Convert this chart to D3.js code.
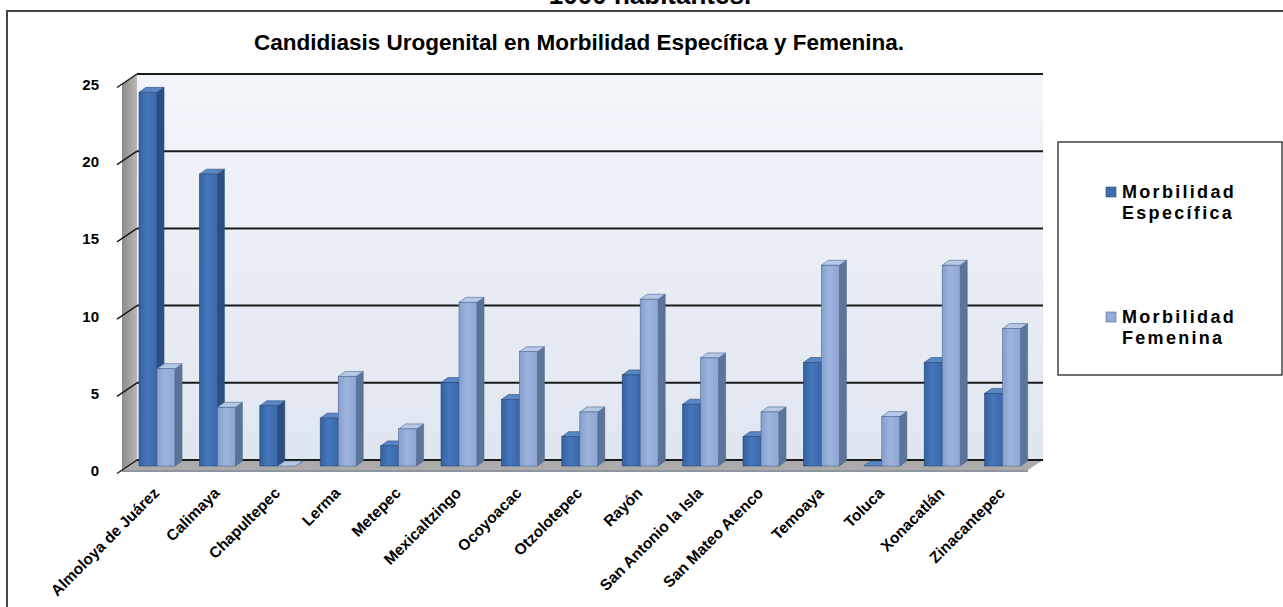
<!DOCTYPE html>
<html>
<head>
<meta charset="utf-8">
<script src="https://cdn.jsdelivr.net/npm/d3@7"></script>
<style>
  body { margin: 0; background: #fff; }
  svg { display: block; font-family: Arial, "Liberation Sans", sans-serif; }
</style>
</head>
<body>
<svg id="chart" width="1283" height="607"></svg>
<script>
var categories = ['Almoloya de Juárez', 'Calimaya', 'Chapultepec', 'Lerma', 'Metepec',
  'Mexicaltzingo', 'Ocoyoacac', 'Otzolotepec', 'Rayón', 'San Antonio la Isla',
  'San Mateo Atenco', 'Temoaya', 'Toluca', 'Xonacatlán', 'Zinacantepec'];
var especifica = [24.2, 18.9, 3.9, 3.1, 1.3, 5.4, 4.3, 1.9, 5.9, 4.0, 1.9, 6.7, 0, 6.7, 4.7];
var femenina = [6.3, 3.8, 0, 5.8, 2.4, 10.6, 7.4, 3.5, 10.8, 7.0, 3.5, 13.0, 3.2, 13.0, 8.9];
var seriesNames = [['Morbilidad', 'Específica'], ['Morbilidad', 'Femenina']];
var yTicks = [0, 5, 10, 15, 20, 25];

var svg = d3.select('#chart');
var defs = svg.append('defs');

// depth of the 3d box (walls) and of each bar
var dx = 15, dy = 10;
var bdx = 7, bdy = 5;

var x = d3.scaleBand()
  .domain(categories)
  .range([122, 1028]);
var yBack = d3.scaleLinear().domain([0, 25]).range([460, 74]);
var yFront = d3.scaleLinear().domain([0, 25]).range([470, 84]);
var yBar = d3.scaleLinear().domain([0, 25]).range([466, 80]);

var styles = [
  {front: 'url(#gEsp)', side: '#2C4E80', top: '#5A86C4', stroke: '#2A4A78', key: '#3E6DB0'},
  {front: 'url(#gFem)', side: '#5D7499', top: '#B7C8E6', stroke: '#4E6890', key: '#94ADD8'}
];

function grad(id, stops, vertical) {
  var g = defs.append('linearGradient').attr('id', id)
    .attr('x1', 0).attr('y1', 0).attr('x2', vertical ? 0 : 1).attr('y2', vertical ? 1 : 0);
  stops.forEach(function (s) {
    g.append('stop').attr('offset', s[0]).attr('stop-color', s[1]);
  });
}
grad('gEsp', [[0, '#34609E'], [0.45, '#4677BC'], [1, '#3A67A8']]);
grad('gFem', [[0, '#849FCE'], [0.45, '#9DB4DD'], [1, '#8CA6D4']]);
grad('gWall', [[0, '#F2F5FA'], [1, '#E0E6F0']], true);
grad('gSide', [[0, '#8C8C8C'], [1, '#B8B8B8']]);

// header text cut at the top and frame
svg.append('text')
  .attr('x', 650).attr('y', 4)
  .attr('text-anchor', 'middle')
  .style('font-size', '26px').style('font-weight', 'bold')
  .text('1000 habitantes.');

svg.append('rect')
  .attr('x', 7).attr('y', 11)
  .attr('width', 1300).attr('height', 620)
  .attr('fill', 'none').attr('stroke', '#444').attr('stroke-width', 2);

svg.append('text')
  .attr('x', 579).attr('y', 50)
  .attr('text-anchor', 'middle')
  .style('font-size', '22.5px').style('font-weight', 'bold')
  .text('Candidiasis Urogenital en Morbilidad Específica y Femenina.');

var x0 = x.range()[0], x1 = x.range()[1];

// back wall
svg.append('rect')
  .attr('x', x0 + dx).attr('y', yBack(25))
  .attr('width', x1 - x0).attr('height', yBack(0) - yBack(25))
  .attr('fill', 'url(#gWall)');

svg.append('g')
  .selectAll('line')
  .data(yTicks.filter(function (d) { return d > 0; }))
  .enter()
  .append('line')
  .attr('x1', x0 + dx).attr('x2', x1 + dx)
  .attr('y1', function (d) { return yBack(d); })
  .attr('y2', function (d) { return yBack(d); })
  .attr('stroke', '#1a1a1a').attr('stroke-width', 2);

// side wall
svg.append('path')
  .attr('d', 'M' + [x0, yFront(25)] + 'L' + [x0 + dx, yBack(25)] + 'L' + [x0 + dx, yBack(0)] + 'L' + [x0, yFront(0)] + 'Z')
  .attr('fill', 'url(#gSide)');

// floor
svg.append('path')
  .attr('d', 'M' + [x0, yFront(0)] + 'L' + [x0 + dx, yBack(0)] + 'L' + [x1 + dx, yBack(0)] + 'L' + [x1, yFront(0)] + 'Z')
  .attr('fill', '#ABABAB');
svg.append('path')
  .attr('d', 'M' + [x0, yFront(0)] + 'L' + [x1, yFront(0)] + 'L' + [x1, yFront(0) + 2] + 'L' + [x0, yFront(0) + 2] + 'Z')
  .attr('fill', '#8E959E');
svg.append('line')
  .attr('x1', x0 + dx).attr('x2', x1 + dx)
  .attr('y1', yBack(0)).attr('y2', yBack(0))
  .attr('stroke', '#1a1a1a').attr('stroke-width', 2);

// slanted ticks and labels
var ticks = svg.append('g');
yTicks.forEach(function (t) {
  ticks.append('line')
    .attr('x1', x0 - 5).attr('y1', yFront(t) + 3.5)
    .attr('x2', x0 + dx).attr('y2', yBack(t))
    .attr('stroke', '#1a1a1a').attr('stroke-width', 1.5);
  ticks.append('text')
    .attr('x', 99).attr('y', yFront(t) + 2)
    .attr('text-anchor', 'end')
    .attr('dominant-baseline', 'middle')
    .style('font-size', '15px').style('font-weight', 'bold')
    .text(t);
});

// 3d bars
var barW = 18;
var bars = svg.append('g');
categories.forEach(function (c, i) {
  [especifica[i], femenina[i]].forEach(function (v, s) {
    var st = styles[s];
    var bx = x(c) + 17 + s * barW;
    var top = yBar(v), base = yBar(0);
    var g = bars.append('g');
    g.append('path')
      .attr('d', 'M' + [bx + barW, top] + 'L' + [bx + barW + bdx, top - bdy] + 'L' + [bx + barW + bdx, base - bdy] + 'L' + [bx + barW, base] + 'Z')
      .attr('fill', st.side).attr('stroke', st.stroke).attr('stroke-width', 0.6);
    g.append('path')
      .attr('d', 'M' + [bx, top] + 'L' + [bx + bdx, top - bdy] + 'L' + [bx + barW + bdx, top - bdy] + 'L' + [bx + barW, top] + 'Z')
      .attr('fill', st.top).attr('stroke', st.stroke).attr('stroke-width', 0.6);
    if (v > 0) {
      g.append('rect')
        .attr('x', bx).attr('y', top)
        .attr('width', barW).attr('height', base - top)
        .attr('fill', st.front).attr('stroke', st.stroke).attr('stroke-width', 0.6);
    }
  });
});

// category labels
svg.append('g')
  .selectAll('text')
  .data(categories)
  .enter()
  .append('text')
  .attr('transform', function (d) {
    return 'translate(' + (x(d) + x.bandwidth() / 2 + 8) + ',494) rotate(-45)';
  })
  .attr('text-anchor', 'end')
  .style('font-size', '15.5px').style('font-weight', 'bold')
  .text(function (d) { return d; });

// legend
var legend = svg.append('g');
legend.append('rect')
  .attr('x', 1058).attr('y', 142)
  .attr('width', 224).attr('height', 233)
  .attr('fill', '#fff').attr('stroke', '#111').attr('stroke-width', 1.2);

var legendY = [187, 312];
seriesNames.forEach(function (lines, s) {
  legend.append('rect')
    .attr('x', 1106).attr('y', legendY[s])
    .attr('width', 10).attr('height', 10)
    .attr('fill', styles[s].key).attr('stroke', styles[s].stroke).attr('stroke-width', 0.6);
  lines.forEach(function (t, j) {
    legend.append('text')
      .attr('x', 1122).attr('y', legendY[s] + 11 + j * 21)
      .style('font-size', '18px').style('font-weight', 'bold')
      .style('letter-spacing', '2.3px')
      .text(t);
  });
});
</script>
</body>
</html>
